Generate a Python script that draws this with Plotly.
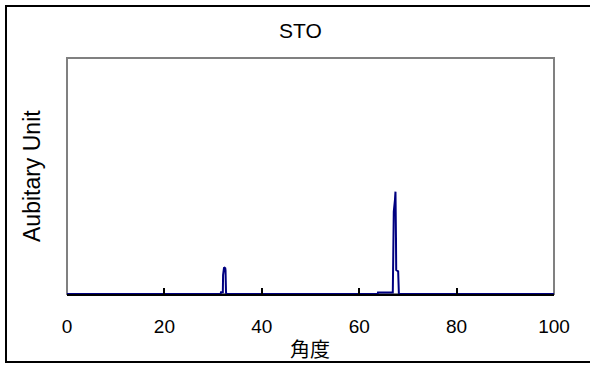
import plotly.graph_objects as go

# Data
angle = [0, 31.55, 31.62, 32.0, 32.05, 32.25, 32.5, 32.55, 32.65, 32.7,
         63.8, 63.86, 66.9, 66.95, 67.1, 67.35, 67.45, 67.55, 67.6, 68.0, 68.07, 68.15, 100]
intensity = [0, 0, 18, 18, 200, 283, 272, 250, 20, 0,
             0, 16, 16, 300, 872, 1000, 1084, 600, 254, 240, 100, 0, 0]
x_ticks = [0, 20, 40, 60, 80, 100]

title_text = "STO"
x_title = "角度"
y_title = "Aubitary Unit"

W, H = 590, 367
L, R, T, B = 67, 36, 58, 73
pw, ph = W - L - R, H - T - B

def px_x(p):
    return (p - L) / pw

def px_y(p):
    return (H - B - p) / ph

font_main = "Arial, 'Liberation Sans', sans-serif"

fig = go.Figure()
fig.add_trace(go.Scatter(x=angle, y=intensity, mode="lines",
                         line=dict(color="#000080", width=2), hoverinfo="skip"))

fig.update_layout(
    width=W, height=H,
    margin=dict(l=L, r=R, t=T, b=B, pad=0),
    paper_bgcolor="white", plot_bgcolor="white",
    showlegend=False,
    font=dict(family=font_main, color="black"),
    xaxis=dict(range=[0, 100], tickvals=x_ticks, ticktext=[str(v) for v in x_ticks],
               ticks="inside", ticklen=6, tickwidth=2, tickcolor="black",
               showline=True, linecolor="black", linewidth=2,
               showgrid=False, zeroline=False,
               tickfont=dict(size=19, family=font_main, color="black"),
               ticklabelstandoff=14, fixedrange=True),
    yaxis=dict(range=[0, 2500], showticklabels=False, ticks="", showgrid=False,
               zeroline=False, showline=False, fixedrange=True),
    shapes=[
        dict(type="rect", xref="paper", yref="paper", x0=0, y0=0, x1=1, y1=1,
             line=dict(color="#808080", width=2), layer="below"),
        dict(type="rect", xref="paper", yref="paper",
             x0=px_x(6), y0=px_y(362), x1=px_x(600), y1=px_y(6),
             line=dict(color="black", width=2), layer="above"),
    ],
    annotations=[
        dict(text=title_text, xref="paper", yref="paper", x=px_x(300), y=px_y(30),
             xanchor="center", yanchor="middle", showarrow=False,
             font=dict(size=21, family=font_main, color="black")),
        dict(text=x_title, xref="paper", yref="paper", x=px_x(310), y=px_y(348),
             xanchor="center", yanchor="middle", showarrow=False,
             font=dict(size=20, family="'Noto Sans CJK JP', sans-serif", color="black")),
        dict(text=y_title, xref="paper", yref="paper", x=px_x(32), y=px_y(176),
             xanchor="center", yanchor="middle", showarrow=False, textangle=-90,
             font=dict(size=23, family=font_main, color="black")),
    ],
)

fig.write_html("out.html", config={"displayModeBar": False},
               post_script="document.body.style.margin='0';document.body.style.overflow='hidden';")
